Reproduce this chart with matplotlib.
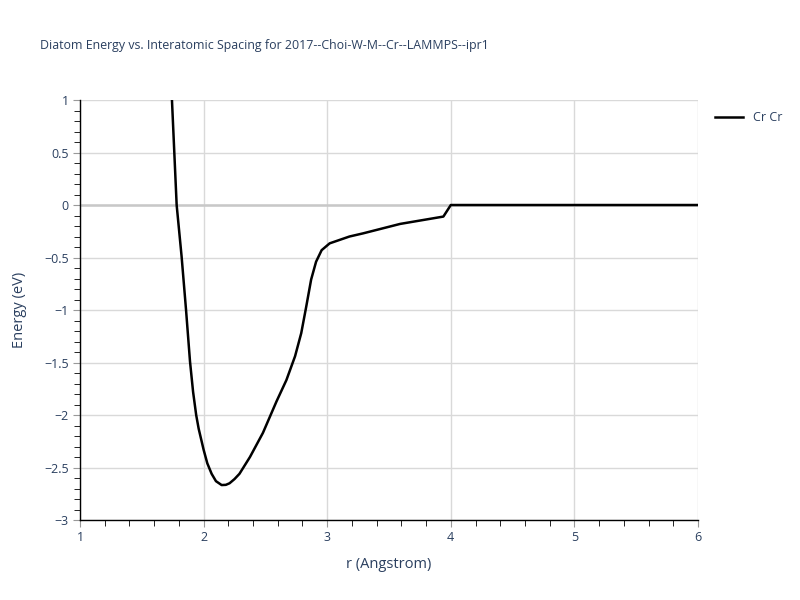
import matplotlib
matplotlib.use("Agg")
import matplotlib.pyplot as plt
from matplotlib.ticker import MultipleLocator, FuncFormatter

plt.rcParams['font.family'] = ['Open Sans', 'DejaVu Sans']

# values
r = [1.744, 1.782, 1.822, 1.858, 1.89, 1.915, 1.94, 1.96, 1.98, 2.0, 2.03,
     2.065, 2.10, 2.146, 2.18, 2.21, 2.25, 2.29, 2.375, 2.48, 2.59, 2.67,
     2.74, 2.79, 2.83, 2.87, 2.91, 2.955, 3.02, 3.18, 3.29, 3.59, 3.94, 4.0,
     5.0, 6.0]
energy = [1.0, 0.0, -0.49, -1.0, -1.49, -1.78, -2.0, -2.13, -2.23, -2.33, -2.46,
          -2.56, -2.63, -2.667, -2.665, -2.65, -2.61, -2.56, -2.40, -2.17, -1.87, -1.667,
          -1.44, -1.22, -0.97, -0.71, -0.54, -0.43, -0.365, -0.30, -0.27, -0.18, -0.11, 0.0,
          0.0, 0.0]
label = "Cr Cr"
title = "Diatom Energy vs. Interatomic Spacing for 2017--Choi-W-M--Cr--LAMMPS--ipr1"

txt = '#2a3f5f'
fig = plt.figure(figsize=(8, 6), dpi=100)
ax = fig.add_axes([0.1, 0.1333, 0.7725, 0.7])

ax.axhline(0, color='#c8c8c8', lw=1.8, zorder=1)
ax.plot(r, energy, color='black', lw=1.8, label=label, zorder=3)

ax.set_xlim(1, 6)
ax.set_ylim(-3, 1)
ax.xaxis.set_major_locator(MultipleLocator(1))
ax.xaxis.set_minor_locator(MultipleLocator(0.2))
ax.yaxis.set_major_locator(MultipleLocator(0.5))
ax.yaxis.set_minor_locator(MultipleLocator(0.1))
fmt = FuncFormatter(lambda v, p: ('%g' % v).replace('-', '\u2212'))
ax.xaxis.set_major_formatter(fmt)
ax.yaxis.set_major_formatter(fmt)
ax.grid(True, which='major', color='#d9d9d9', lw=1)
ax.set_axisbelow(True)

for s in ['top', 'right']:
    ax.spines[s].set_visible(False)
for s in ['left', 'bottom']:
    ax.spines[s].set_color('black')
    ax.spines[s].set_linewidth(1)

ax.tick_params(which='major', direction='out', length=5, color='#999999',
               labelsize=9, labelcolor=txt, pad=3)
ax.tick_params(which='minor', direction='out', length=4, color='black')
ax.set_xlabel("r (Angstrom)", fontsize=10.5, color=txt, labelpad=9)
ax.yaxis.set_label_coords(-0.085, 0.5)
ax.set_ylabel("Energy (eV)", fontsize=10.5, color=txt)

fig.text(0.05, 0.925, title, fontsize=8.9, color=txt, ha='left', va='center')

ax.legend(loc='upper left', bbox_to_anchor=(1.01, 1.0), frameon=False,
          fontsize=9, labelcolor=txt, handlelength=2.2)

fig.savefig("out.png", dpi=100)
